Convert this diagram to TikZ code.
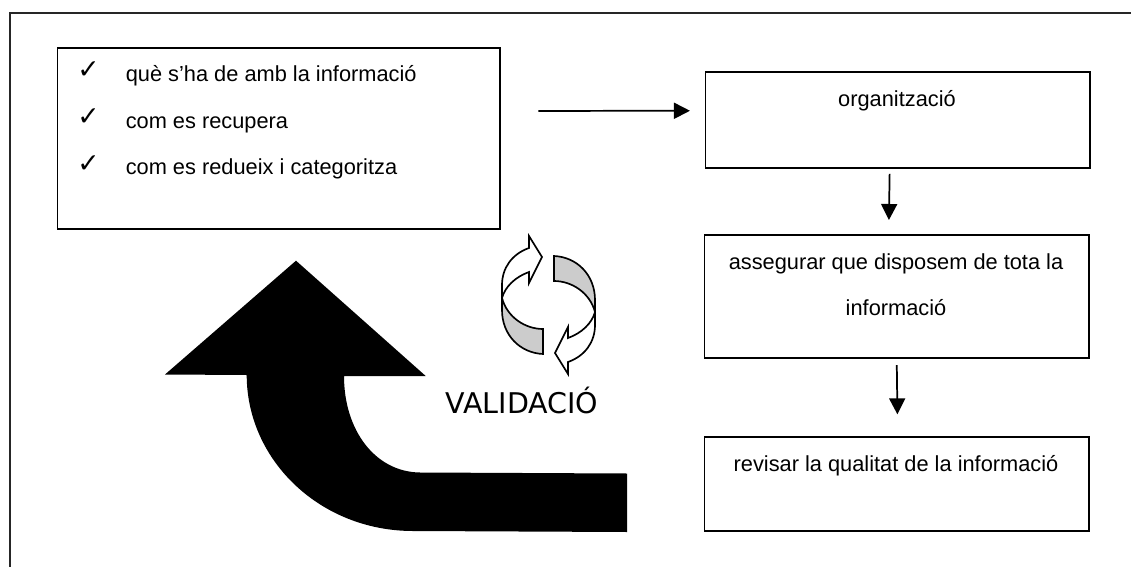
\documentclass[tikz,border=0pt]{standalone}
\usepackage{fontspec}
\setmainfont{Liberation Sans}
\newfontfamily\dejavu{DejaVu Sans}
\usetikzlibrary{arrows.meta}
\tikzset{
  px/.style={x=0.75pt,y=-0.75pt},
  boxnode/.style={draw=black,line width=1.4pt,inner sep=0pt,anchor=north west},
  label/.style={inner sep=0pt,anchor=base,font=\fontsize{16.35}{18}\selectfont,text=black},
  item/.style={label,anchor=base west},
  tick/.style={inner sep=0pt,anchor=base,font=\dejavu\fontsize{20}{22}\selectfont},
  conn/.style={line width=1.3pt,-{Triangle[length=12pt,width=12pt]}},
  framel/.style={line width=1.5pt,draw=black!85},
  bigarrow/.style={fill=black,draw=none},
  cyc/.style={draw=black,line width=1.25pt,line join=miter},
}
\begin{document}
\begin{tikzpicture}[px]
\useasboundingbox (0,0) rectangle (1131,567);
\draw[framel] (9.5,567) coordinate (fb) -- (9.5,13.5) coordinate (fc) -- (1131,13.5) coordinate (fr);

\node[boxnode,minimum width=332.2pt,minimum height=135.8pt] (b1) at (56.5,47) {};
\node[boxnode,minimum width=288.4pt,minimum height=72pt] (b2) at (704.5,71) {};
\node[boxnode,minimum width=288.4pt,minimum height=92pt] (b3) at (703.5,234) {};
\node[boxnode,minimum width=288.4pt,minimum height=70.8pt] (b4) at (703.5,435.7) {};

\node[tick] (c1) at (88.5,78.5) {✓};
\node[tick] (c2) at (88.5,125) {✓};
\node[tick] (c3) at (88.5,172) {✓};
\node[item] (t1) at (125.5,82) {què s’ha de amb la informació};
\node[item] (t2) at (125.5,128) {com es recupera};
\node[item] (t3) at (125.5,174) {com es redueix i categoritza};
\node[label] (t4) at (897,107) {organització};
\node[label] (t5) at (896,269) {assegurar que disposem de tota la};
\node[label] (t6) at (896,315) {informació};
\node[label] (t7) at (896,471) {revisar la qualitat de la informació};
\node[inner sep=0pt,anchor=base,font=\dejavu\fontsize{21.4}{24}\selectfont] (t8) at (522,413) {VALIDACIÓ};

\draw[conn,shorten <=27.75pt,shorten >=10.9pt] ([yshift=20.6pt]b1.east) -- ([yshift=6.9pt]b2.west);
\draw[conn,shorten <=3.75pt,shorten >=10.5pt] ([xshift=-6pt]b2.south) -- ([xshift=-6pt]b3.north);
\draw[conn,shorten <=5pt,shorten >=16pt] (b3.south) -- ([xshift=0.75pt]b4.north);

\path[bigarrow] (296,260.7) -- (425.7,376) -- (344,376)
  .. controls (344,430) and (375,472) .. (420,472.5)
  -- (627,473.5) -- (627,532) -- (413,531)
  .. controls (320,531) and (246.7,460) .. (246.7,375)
  -- (165,374.5) -- cycle;

\foreach \r in {0,180}{
\begin{scope}[rotate around={\r:(548.5,305)}]
  \path[cyc,fill=black!20] (502,298)
     .. controls (507,317) and (525,329) .. (543,329)
     -- (543,354)
     .. controls (520,353) and (502,335) .. (502,310)
     -- (502,285) -- cycle;
  \path[cyc,fill=white] (542,257) -- (529,236) -- (529,248)
     .. controls (512,254) and (502,268) .. (502,285)
     -- (502,298)
     .. controls (505,287) and (515,277) .. (529,272)
     -- (529,283) -- cycle;
\end{scope}
}
\end{tikzpicture}
\end{document}
